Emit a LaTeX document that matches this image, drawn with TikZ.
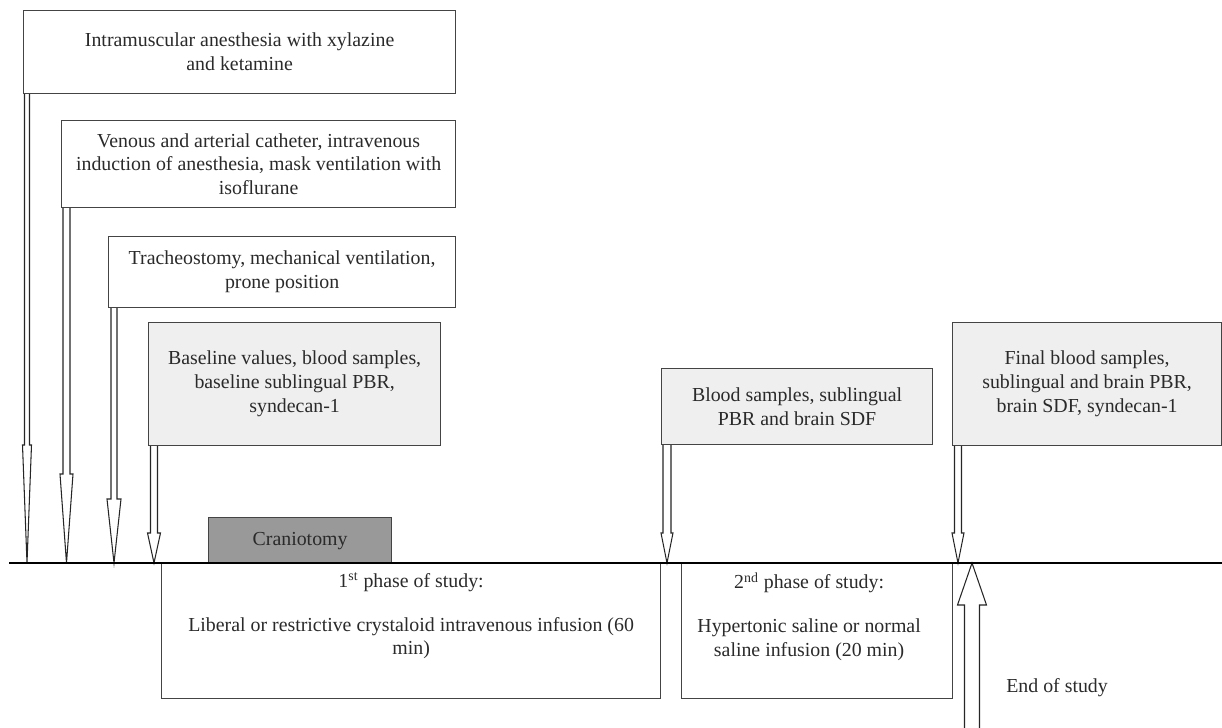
\documentclass[tikz,border=0pt]{standalone}
\usepackage{fontspec}
\setmainfont{Liberation Serif}
\usepackage{xcolor}
\usetikzlibrary{calc}

\newlength\pxu
\setlength\pxu{0.2mm}
\definecolor{boxline}{HTML}{444444}
\definecolor{lightfill}{HTML}{EFEFEF}
\definecolor{cranfill}{HTML}{999999}
\definecolor{txt}{HTML}{2A2A2A}

\tikzset{
  stagebox/.style={draw=boxline,line width=.7pt,inner sep=0pt,anchor=north west,
    align=center,text=txt,font=\fontsize{11.3}{13.6}\selectfont},
  samplebox/.style={stagebox,fill=lightfill},
  phasetext/.style={inner sep=0pt,anchor=north,align=center,text=txt,
    font=\fontsize{11.3}{13.6}\selectfont},
  arrowline/.style={draw=black!85,line width=.6pt,fill=white},
  timeline/.style={black,line width=1.3pt},
}

% start, target line, head length, shaft half width, head half width
\newcommand{\hollowarrow}[5]{%
  \draw[arrowline] ($(#1)+({-(#4)},0)$) -- ($(#1 |- #2)+({-(#4)},{-(#3)})$)
    -- ($(#1 |- #2)+({-(#5)},{-(#3)})$) -- (#1 |- #2)
    -- ($(#1 |- #2)+(#5,{-(#3)})$) -- ($(#1 |- #2)+(#4,{-(#3)})$) -- ($(#1)+(#4,0)$);}

\begin{document}
\begin{tikzpicture}[x=0.2mm,y=-0.2mm]
  \useasboundingbox (0,0) rectangle (1222,728);

  % steps before the study
  \node[stagebox,minimum width=432\pxu,minimum height=83\pxu] (im) at (23,10)
    {Intramuscular anesthesia with xylazine\\and ketamine};
  \node[stagebox,minimum width=394\pxu,minimum height=87\pxu] (vac) at (61,120)
    {Venous and arterial catheter, intravenous\\induction of anesthesia, mask ventilation with\\isoflurane};
  \node[stagebox,minimum width=347\pxu,minimum height=71\pxu] (trach) at (108,236)
    {Tracheostomy, mechanical ventilation,\\prone position};

  % measurements
  \node[samplebox,minimum width=292\pxu,minimum height=123\pxu] (base) at (148,322)
    {Baseline values, blood samples,\\baseline sublingual PBR,\\syndecan-1};
  \node[samplebox,minimum width=271\pxu,minimum height=76\pxu] (mid) at (661,368)
    {Blood samples, sublingual\\PBR and brain SDF};
  \node[samplebox,minimum width=269\pxu,minimum height=123\pxu] (final) at (952,322)
    {Final blood samples,\\sublingual and brain PBR,\\brain SDF, syndecan-1};

  % phases
  \node[stagebox,minimum width=499\pxu,minimum height=135\pxu] (phase1) at (161,563) {};
  \node[stagebox,minimum width=271\pxu,minimum height=135\pxu] (phase2) at (681,563) {};
  \node[phasetext] (p1txt) at ($(phase1.north)+(0,9)$)
    {1\textsuperscript{st} phase of study:\\[4mm]Liberal or restrictive crystaloid intravenous infusion (60\\min)};
  \node[phasetext] (p2txt) at ($(phase2.north)+(-8,9)$)
    {2\textsuperscript{nd} phase of study:\\[4mm]Hypertonic saline or normal\\saline infusion (20 min)};

  \node[stagebox,fill=cranfill,minimum width=183\pxu,minimum height=46\pxu] (cran) at (208,517)
    {Craniotomy};

  \coordinate (tlw) at (9,563);
  \coordinate (tle) at (1222,563);

  \coordinate (a1) at ($(im.south west)+(4,0)$);
  \coordinate (a2) at ($(vac.south west)+(5.5,0)$);
  \coordinate (a3) at ($(trach.south west)+(6,0)$);
  \coordinate (a4) at ($(base.south west)+(6,0)$);
  \coordinate (a5) at ($(mid.south west)+(6,0)$);
  \coordinate (a6) at ($(final.south west)+(6,0)$);
  \coordinate (eos) at (972,730);

  \hollowarrow{a1}{tlw}{118}{2.5}{4.5}
  \hollowarrow{a2}{tlw}{89}{3.5}{6.5}
  \hollowarrow{a3}{tlw}{64}{3}{7}
  \hollowarrow{a4}{tlw}{30}{3.5}{6.5}
  \hollowarrow{a5}{tlw}{30}{4}{6}
  \hollowarrow{a6}{tlw}{30}{3.5}{6}
  \hollowarrow{eos}{tlw}{-42}{7.5}{14.5}

  \draw[timeline] (tlw) -- (tle);

  \node[phasetext,anchor=west] (eostxt) at (1006,688) {End of study};
\end{tikzpicture}
\end{document}
